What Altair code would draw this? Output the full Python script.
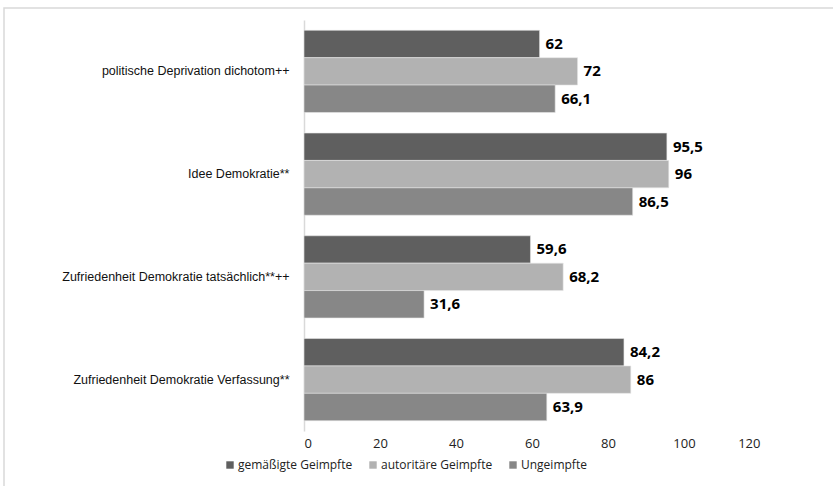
import altair as alt
import pandas as pd

categories = [
    "politische Deprivation dichotom++",
    "Idee Demokratie**",
    "Zufriedenheit Demokratie tatsächlich**++",
    "Zufriedenheit Demokratie Verfassung**",
]
series = ["gemäßigte Geimpfte", "autoritäre Geimpfte", "Ungeimpfte"]
gemaessigt = [62, 95.5, 59.6, 84.2]
autoritaer = [72, 96, 68.2, 86]
ungeimpft = [66.1, 86.5, 31.6, 63.9]
x_ticks = [0, 20, 40, 60, 80, 100, 120]
colors = ["#5f5f5f", "#b2b2b2", "#878787"]

rows = []
for s, vals in zip(series, [gemaessigt, autoritaer, ungeimpft]):
    for c, v in zip(categories, vals):
        rows.append({"Kategorie": c, "Gruppe": s, "Wert": v,
                     "Label": f"{v:g}".replace(".", ",")})
df = pd.DataFrame(rows)

base = alt.Chart(df).encode(
    y=alt.Y("Kategorie:N", sort=categories,
            scale=alt.Scale(paddingInner=0.2, paddingOuter=0.1),
            axis=alt.Axis(title=None, ticks=False, domain=True, domainColor="#d9d9d9",
                          domainWidth=1.5,
                          labelFont="Liberation Sans", labelFontSize=12.5,
                          labelColor="#111111", labelPadding=15, labelLimit=300)),
    yOffset=alt.YOffset("Gruppe:N", sort=series,
                        scale=alt.Scale(paddingInner=0, paddingOuter=0)),
)

bars = base.mark_bar(stroke="#e6e6e6", strokeWidth=0.6).encode(
    x=alt.X("Wert:Q", scale=alt.Scale(domain=[0, 120], nice=False),
            axis=alt.Axis(values=x_ticks, title=None, grid=False, domain=False, ticks=False,
                          labelFont="Open Sans", labelFontSize=13, labelColor="#222222",
                          labelPadding=6)),
    color=alt.Color("Gruppe:N", sort=series,
                    scale=alt.Scale(domain=series, range=colors),
                    legend=alt.Legend(title=None, orient="none", direction="horizontal",
                                      legendX=-80, legendY=439,
                                      symbolType="square", symbolSize=55,
                                      symbolStrokeWidth=0, labelOffset=2,
                                      labelFont="Open Sans", labelFontSize=12,
                                      labelColor="#222222", columnPadding=14)),
)

texts = base.mark_text(align="left", baseline="middle", dx=6, font="Open Sans",
                       fontSize=15, fontWeight="bold", color="#000000").encode(
    x="Wert:Q", text="Label:N")

frame = alt.Chart(pd.DataFrame({"a": [0]})).mark_rect(
    fill=None, stroke="#d9d9d9", strokeWidth=1.5).encode(
    x=alt.value(-300), x2=alt.value(545), y=alt.value(-12), y2=alt.value(480))

chart = alt.layer(frame, bars, texts).properties(
    width=456, height=411,
    autosize=alt.AutoSizeParams(type="none"),
    padding={"left": 304, "top": 20, "right": 73, "bottom": 55},
    background="white",
).configure_view(stroke=None)

chart.save("out.html", embed_options={"renderer": "svg", "actions": False})
